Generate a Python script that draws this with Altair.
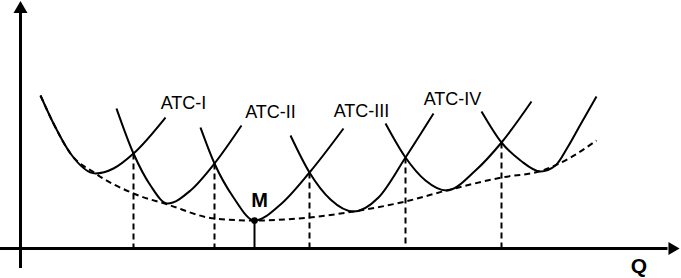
import altair as alt
import pandas as pd

# Short-run ATC curves (Q, cost)
c1_q = [20, 33, 50, 75, 93, 113, 145]
c1_c = [153, 125, 95, 75, 80, 95, 131]
c2_q = [96, 113, 130, 147, 170, 194, 221]
c2_c = [140, 95, 63, 45, 58, 85, 123]
c3_q = [180, 194, 213, 234, 260, 289, 323]
c3_c = [121, 85, 51, 28, 44, 76, 120]
c4_q = [270, 289, 310, 333, 358, 385, 413]
c4_c = [113, 76, 49, 37, 51, 91, 135]
c5_q = [365, 385, 405, 426, 455, 481, 511]
c5_c = [125, 91, 68, 58, 78, 106, 147]
c6_q = [461, 481, 500, 520, 535, 547, 560, 576]
c6_c = [137, 106, 88, 77, 83, 101, 124, 152]

# Long-run envelope (dashed)
env_q = [20, 33, 50, 75, 113, 147, 194, 234, 289, 333, 385, 426, 481, 522, 550, 576]
env_c = [153, 125, 95, 75, 55, 44, 30, 28, 31, 37, 47, 58, 71, 78, 91, 108]

# Intersections -> dashed drop lines
drop_q = [113, 194, 289, 385, 481]
drop_c = [95, 85, 76, 91, 106]

# Point M
m_q = [234]
m_c = [28]

# Labels
lab_text = ["ATC-I", "ATC-II", "ATC-III", "ATC-IV"]
lab_q = [163, 250, 341, 432]
lab_c = [145, 136, 137, 149]

# Axes extents
xaxis_q = [-20.5, 647]
yaxis_c = [-19.5, 236]

XD = [-20.5, 660.5]
YD = [-29.5, 248.5]

curves = []
for name, qs, cs in [("c1", c1_q, c1_c), ("c2", c2_q, c2_c), ("c3", c3_q, c3_c),
                     ("c4", c4_q, c4_c), ("c5", c5_q, c5_c), ("c6", c6_q, c6_c)]:
    for q, c in zip(qs, cs):
        curves.append({"curve": name, "Q": q, "C": c})
curves_df = pd.DataFrame(curves)
env_df = pd.DataFrame({"Q": env_q, "C": env_c})
drop_df = pd.DataFrame({"Q": drop_q, "C": drop_c, "C0": [0] * len(drop_q)})
m_df = pd.DataFrame({"Q": m_q, "C": m_c, "C0": [0]})
lab_df = pd.DataFrame({"t": lab_text, "Q": lab_q, "C": lab_c})

xs = alt.Scale(domain=XD, nice=False, zero=False)
ys = alt.Scale(domain=YD, nice=False, zero=False)

def X(f="Q"):
    return alt.X(f, type="quantitative", scale=xs, axis=None)

def Y(f="C"):
    return alt.Y(f, type="quantitative", scale=ys, axis=None)

xaxis = alt.Chart(pd.DataFrame({"Q": [xaxis_q[0]], "Q2": [xaxis_q[1]], "C": [0]})).mark_rule(
    color="black", strokeWidth=3).encode(x=X(), x2="Q2", y=Y())
yaxis = alt.Chart(pd.DataFrame({"Q": [0], "C": [yaxis_c[0]], "C2": [yaxis_c[1]]})).mark_rule(
    color="black", strokeWidth=3).encode(x=X(), y=Y(), y2="C2")

arrow_up = alt.Chart(pd.DataFrame({"Q": [0], "C": [241.5]})).mark_point(
    shape="M-1,0.86L1,0.86L0,-0.86Z", filled=True, color="black", size=196, opacity=1
).encode(x=X(), y=Y())
arrow_right = alt.Chart(pd.DataFrame({"Q": [653.5], "C": [0]})).mark_point(
    shape="M-0.86,-1L-0.86,1L0.86,0Z", filled=True, color="black", size=169, opacity=1
).encode(x=X(), y=Y())

curve_layer = alt.Chart(curves_df).mark_line(
    color="black", strokeWidth=2, interpolate="monotone"
).encode(x=X(), y=Y(), detail="curve:N")

env_layer = alt.Chart(env_df).mark_line(
    color="black", strokeWidth=2, strokeDash=[6, 4], interpolate="monotone"
).encode(x=X(), y=Y())

drop_layer = alt.Chart(drop_df).mark_rule(
    color="black", strokeWidth=2, strokeDash=[6, 4]
).encode(x=X(), y=Y(), y2="C0")

m_rule = alt.Chart(m_df).mark_rule(color="black", strokeWidth=2).encode(x=X(), y=Y(), y2="C0")
m_pt = alt.Chart(m_df).mark_point(filled=True, color="black", size=45, opacity=1).encode(x=X(), y=Y())
m_txt = alt.Chart(pd.DataFrame({"Q": [239], "C": [48], "t": ["M"]})).mark_text(
    font="Liberation Sans", fontSize=20, fontWeight="bold", color="black"
).encode(x=X(), y=Y(), text="t")
q_txt = alt.Chart(pd.DataFrame({"Q": [618.5], "C": [-18], "t": ["Q"]})).mark_text(
    font="Liberation Sans", fontSize=21, fontWeight="bold", color="black"
).encode(x=X(), y=Y(), text="t")

labels = alt.Chart(lab_df).mark_text(
    font="Liberation Sans", fontSize=18, color="black"
).encode(x=X(), y=Y(), text="t")

chart = alt.layer(
    xaxis, yaxis, arrow_up, arrow_right, env_layer, drop_layer, curve_layer,
    m_rule, m_pt, m_txt, q_txt, labels
).properties(
    width=681, height=278, padding=0, autosize=alt.AutoSizeParams(type="none"),
    background="white"
).configure_view(stroke=None)

chart.save("out.html", embed_options={"renderer": "svg", "actions": False})
